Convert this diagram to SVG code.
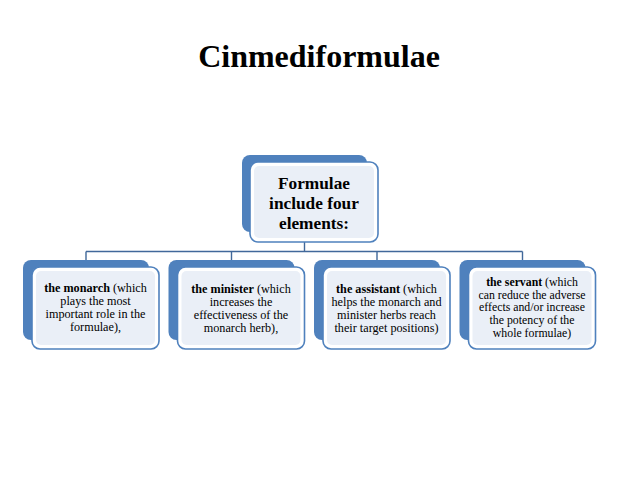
<svg xmlns="http://www.w3.org/2000/svg" width="638" height="479" viewBox="0 0 638 479">
<style>
.back{fill:#4f81bd}
.front{fill:#ffffff;stroke:#4f81bd;stroke-width:1.6}
.inner{fill:#eaeff7}
.t{font-family:"Liberation Serif","Times New Roman",serif;fill:#000;text-anchor:middle}
.c{font-size:12.2px}
.s{font-size:11.8px}
.b{font-weight:bold}
.conn{fill:none;stroke:#41689a;stroke-width:1.4}
</style>
<rect width="638" height="479" fill="#ffffff"/>
<text class="t b" x="319" y="67" font-size="32">Cinmediformulae</text>
<g id="connectors">
<path class="conn" d="M304.5 242V251.5M86 251.5H522.5M86 251.5V260M231.5 251.5V260M377 251.5V260M522.5 251.5V260"/>
</g>
<g id="top">
<rect class="back" x="242" y="155" width="125" height="77" rx="8"/>
<rect class="front" x="250" y="162" width="128" height="80" rx="8"/>
<rect class="inner" x="254" y="166" width="120" height="72" rx="5"/>
<text class="t b" font-size="17.3"><tspan x="314" y="189">Formulae</tspan><tspan x="314" y="209">include four</tspan><tspan x="314" y="228.5">elements:</tspan></text>
</g>
<g id="monarch">
<rect class="back" x="23" y="260" width="126" height="80" rx="8"/>
<rect class="front" x="32" y="267" width="127" height="82" rx="8"/>
<rect class="inner" x="36" y="271" width="119" height="74" rx="5"/>
<text class="t c"><tspan x="95.5" y="292"><tspan class="b">the monarch</tspan> (which</tspan><tspan x="95.5" y="305">plays the most</tspan><tspan x="95.5" y="318">important role in the</tspan><tspan x="95.5" y="331">formulae),</tspan></text>
</g>
<g id="minister">
<rect class="back" x="168.5" y="260" width="126" height="80" rx="8"/>
<rect class="front" x="177.5" y="267" width="127" height="82" rx="8"/>
<rect class="inner" x="181.5" y="271" width="119" height="74" rx="5"/>
<text class="t c"><tspan x="241" y="292.5"><tspan class="b">the minister</tspan> (which</tspan><tspan x="241" y="305.5">increases the</tspan><tspan x="241" y="318.5">effectiveness of the</tspan><tspan x="241" y="331.5">monarch herb),</tspan></text>
</g>
<g id="assistant">
<rect class="back" x="314" y="260" width="126" height="80" rx="8"/>
<rect class="front" x="323" y="267" width="127" height="82" rx="8"/>
<rect class="inner" x="327" y="271" width="119" height="74" rx="5"/>
<text class="t c"><tspan x="386.5" y="292.5"><tspan class="b">the assistant</tspan> (which</tspan><tspan x="386.5" y="305.5">helps the monarch and</tspan><tspan x="386.5" y="318.5">minister herbs reach</tspan><tspan x="386.5" y="331.5">their target positions)</tspan></text>
</g>
<g id="servant">
<rect class="back" x="459.5" y="260" width="126" height="80" rx="8"/>
<rect class="front" x="468.5" y="267" width="127" height="82" rx="8"/>
<rect class="inner" x="472.5" y="271" width="119" height="74" rx="5"/>
<text class="t s"><tspan x="532" y="286.2"><tspan class="b">the servant</tspan> (which</tspan><tspan x="532" y="298.8">can reduce the adverse</tspan><tspan x="532" y="311.4">effects and/or increase</tspan><tspan x="532" y="324">the potency of the</tspan><tspan x="532" y="336.6">whole formulae)</tspan></text>
</g>
</svg>
